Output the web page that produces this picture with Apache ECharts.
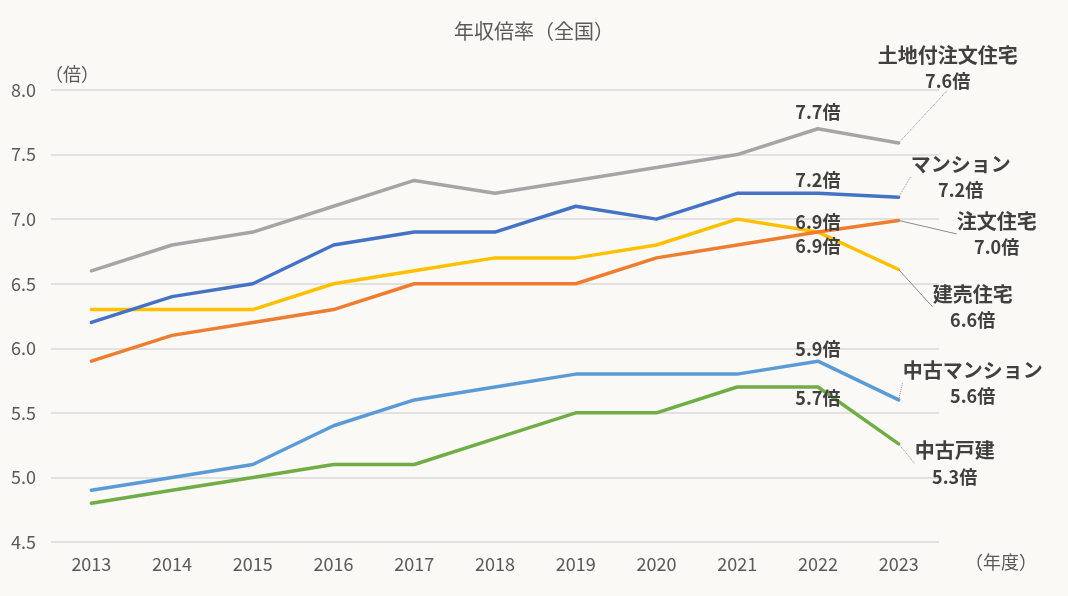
<!DOCTYPE html>
<html><head><meta charset="utf-8">
<script src="https://cdn.jsdelivr.net/npm/echarts@6/dist/echarts.min.js"></script>
<style>html,body{margin:0;padding:0;background:#faf9f6;}#c{width:1068px;height:596px;}</style>
</head><body><div id="c"></div>
<script>
const years = ['2013','2014','2015','2016','2017','2018','2019','2020','2021','2022','2023'];
const yTicks = [4.5, 8.0, 0.5]; // min, max, interval
const tochiChumon   = [6.6, 6.8, 6.9, 7.1, 7.3, 7.2, 7.3, 7.4, 7.5, 7.7, 7.59];
const mansion       = [6.2, 6.4, 6.5, 6.8, 6.9, 6.9, 7.1, 7.0, 7.2, 7.2, 7.17];
const chumon        = [5.9, 6.1, 6.2, 6.3, 6.5, 6.5, 6.5, 6.7, 6.8, 6.9, 6.99];
const tateuri       = [6.3, 6.3, 6.3, 6.5, 6.6, 6.7, 6.7, 6.8, 7.0, 6.9, 6.61];
const chukoMansion  = [4.9, 5.0, 5.1, 5.4, 5.6, 5.7, 5.8, 5.8, 5.8, 5.9, 5.6];
const chukoKodate   = [4.8, 4.9, 5.0, 5.1, 5.1, 5.3, 5.5, 5.5, 5.7, 5.7, 5.26];
const seriesNames = ['土地付注文住宅','マンション','注文住宅','建売住宅','中古マンション','中古戸建'];

const FONT = '"Noto Sans CJK JP", "Noto Sans", sans-serif';
const TXT = '#404040';
const AX = '#595959';
const defs = [
  {data: tochiChumon,  color:'#a5a5a5', mid:'top',    midOff:[0,0],  midDist:8, end:[49,-75], lt:'dotted'},
  {data: mansion,      color:'#4472c4', mid:'top',    midOff:[0,0],  midDist:4, end:[62,-20], lt:'dotted'},
  {data: chumon,       color:'#ed7d31', mid:'top',    midOff:[14,0], midDist:1, end:[98,14],  lt:'solid'},
  {data: tateuri,      color:'#ffc000', mid:'bottom', midOff:[9,0],  midDist:5, end:[74,38],  lt:'solid'},
  {data: chukoMansion, color:'#5b9bd5', mid:'top',    midOff:[9,0],  midDist:3, end:[74,-17], lt:'dotted'},
  {data: chukoKodate,  color:'#70ad47', mid:'bottom', midOff:[11,0], midDist:2, end:[56,20],  lt:'dotted'}
];
const last = years.length - 1, midIdx = years.length - 2;

const series = defs.map((d, si) => ({
  name: seriesNames[si],
  type: 'line',
  data: d.data.map((v, i) => {
    if (i === midIdx) {
      return {value: v, label: {show: true, position: d.mid, distance: d.midDist, offset: d.midOff,
        formatter: p => p.value.toFixed(1) + '倍', fontSize: 18, fontWeight: 'bold', color: TXT, fontFamily: FONT}};
    }
    if (i === last) {
      return {value: v,
        label: {show: true, position: 'inside', align: 'center', verticalAlign: 'middle',
          formatter: p => '{n|' + p.seriesName + '}\n{v|' + p.value.toFixed(1) + '倍}',
          rich: {n: {fontSize: 20, fontWeight: 'bold', color: TXT, fontFamily: FONT, lineHeight: 26, align: 'center'},
                 v: {fontSize: 18, fontWeight: 'bold', color: TXT, fontFamily: FONT, lineHeight: 26, align: 'center'}}},
        labelLine: {show: true, lineStyle: {color: '#8c8c8c', width: 1, type: d.lt}}};
    }
    return v;
  }),
  symbol: 'circle', symbolSize: 0.1, showSymbol: true,
  itemStyle: {color: d.color},
  lineStyle: {color: d.color, width: 3.5, cap: 'round', join: 'round'},
  label: {show: false},
  labelLayout: p => p.dataIndex === last ? {dx: d.end[0], dy: d.end[1]} : {},
  z: 10 - si,
  animation: false
}));

const chart = echarts.init(document.getElementById('c'), null, {renderer: 'canvas'});
chart.setOption({
  backgroundColor: '#faf9f6',
  animation: false,
  title: {text: '年収倍率（全国）', left: 'center', top: 16,
    textStyle: {fontSize: 20, fontWeight: 'normal', color: AX, fontFamily: FONT}},
  grid: {left: 51, right: 129, top: 90, bottom: 54, containLabel: false},
  xAxis: {type: 'category', data: years, boundaryGap: true,
    axisLine: {show: false}, axisTick: {show: false},
    axisLabel: {color: AX, fontSize: 18, margin: 13, fontFamily: FONT},
    name: '（年度）', nameLocation: 'end', nameGap: 26,
    nameTextStyle: {color: AX, fontSize: 18, fontFamily: FONT, align: 'left', verticalAlign: 'top', padding: [11,0,0,0]}},
  yAxis: {type: 'value', min: yTicks[0], max: yTicks[1], interval: yTicks[2],
    axisLine: {show: false}, axisTick: {show: false},
    splitLine: {lineStyle: {color: '#d9d9d9', width: 1.5}},
    axisLabel: {color: AX, fontSize: 18, margin: 15, fontFamily: FONT, formatter: v => v.toFixed(1)},
    name: '（倍）', nameLocation: 'end', nameGap: 7,
    nameTextStyle: {color: AX, fontSize: 18, fontFamily: FONT, align: 'left', padding: [0,0,0,-6]}},
  series: series
});
</script></body></html>
